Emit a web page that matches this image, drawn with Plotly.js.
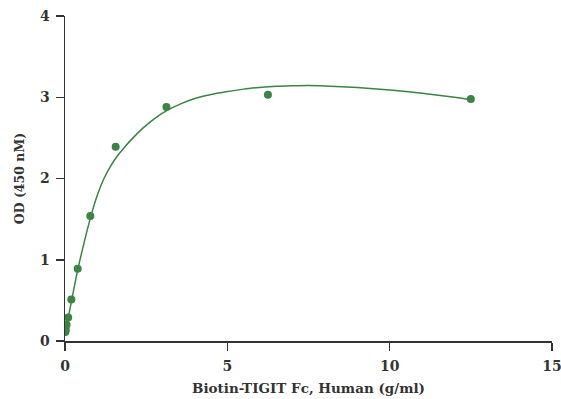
<!DOCTYPE html>
<html>
<head>
<meta charset="utf-8">
<script src="https://cdn.plot.ly/plotly-3.0.1.min.js"></script>
<style>html,body{margin:0;padding:0;background:#fff;}#chart{width:561px;height:399px;}</style>
</head>
<body>
<div id="chart"></div>
<script>
// Measured concentrations (µg/ml) and OD readings
const concentrations = [0.012, 0.024, 0.049, 0.098, 0.195, 0.39, 0.78, 1.56, 3.125, 6.25, 12.5];
const odValues = [0.11, 0.14, 0.20, 0.29, 0.51, 0.89, 1.54, 2.39, 2.88, 3.03, 2.98];

// Fitted curve
const fitX = [0, 0.2, 0.4, 0.6, 0.8, 1.0, 1.2, 1.4, 1.6, 1.8, 2.0, 2.4, 2.8, 3.2, 3.6, 4.0, 4.5, 5.0, 5.5, 6.0, 6.5, 7.0, 7.5, 8.0, 9.0, 10.0, 11.0, 12.0, 12.5];
const fitY = [0.08, 0.49, 0.89, 1.23, 1.54, 1.80, 2.00, 2.15, 2.27, 2.37, 2.46, 2.62, 2.75, 2.85, 2.925, 2.985, 3.035, 3.07, 3.10, 3.12, 3.135, 3.142, 3.145, 3.14, 3.12, 3.09, 3.05, 3.00, 2.97];

const xTicks = [0, 5, 10, 15];
const yTicks = [0, 1, 2, 3, 4];

const green = '#3a8444';
const fontFam = '"DejaVu Serif", serif';

const traces = [
  {x: fitX, y: fitY, mode: 'lines', line: {color: green, width: 1.5, shape: 'spline', smoothing: 1}, hoverinfo: 'skip', showlegend: false},
  {x: concentrations, y: odValues, mode: 'markers', marker: {color: green, size: 8}, showlegend: false}
];

const layout = {
  width: 561, height: 399,
  margin: {l: 65, r: 9, t: 16, b: 58},
  paper_bgcolor: '#fff', plot_bgcolor: '#fff',
  font: {family: fontFam, color: '#333', size: 13},
  xaxis: {
    range: [0, 15], tickvals: xTicks, ticktext: xTicks.map(String),
    showgrid: false, zeroline: false, showline: true, linecolor: '#333', linewidth: 1.5,
    ticks: 'outside', ticklen: 8, tickwidth: 1.5, tickcolor: '#333',
    ticklabeloverflow: 'allow', ticklabelstandoff: 4, automargin: false,
    tickfont: {family: fontFam, size: 14, color: '#333', weight: 'bold'},
    title: {text: '<b>Biotin-TIGIT Fc, Human (g/ml)</b>', font: {family: fontFam, size: 13.5, color: '#333'}, standoff: 10}
  },
  yaxis: {
    range: [0, 4], tickvals: yTicks, ticktext: yTicks.map(String),
    showgrid: false, zeroline: false, showline: true, linecolor: '#333', linewidth: 1.5,
    ticks: 'outside', ticklen: 8, tickwidth: 1.5, tickcolor: '#333',
    ticklabelstandoff: 3, automargin: false,
    tickfont: {family: fontFam, size: 14, color: '#333', weight: 'bold'},
    title: {text: '<b>OD (450 nM)</b>', font: {family: fontFam, size: 12.5, color: '#333'}, standoff: 12}
  }
};

Plotly.newPlot('chart', traces, layout, {displayModeBar: false, staticPlot: true});
</script>
</body>
</html>
